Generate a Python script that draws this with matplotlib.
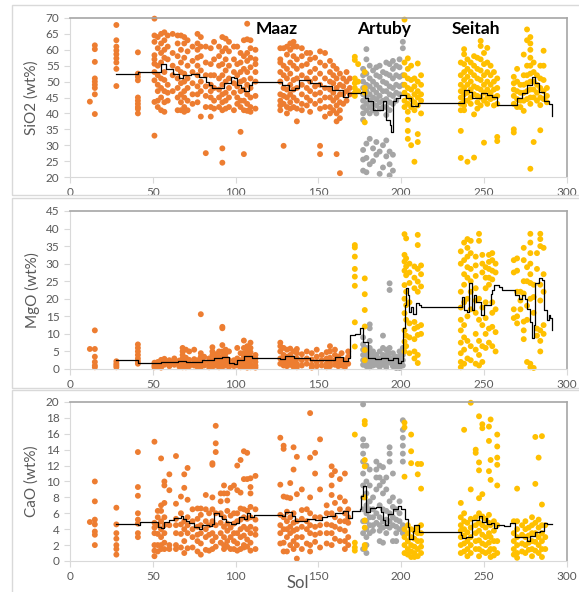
import matplotlib
matplotlib.use("Agg")
import matplotlib.pyplot as plt
from matplotlib.patches import Rectangle

ORANGE = '#ED7D31'
GREY = '#A5A5A5'
YELLOW = '#FFC000'
TXT = '#595959'

# ---- SiO2 (sol, values) ----
sio2_maaz = [
    (12, [43.7]),
    (15, [61.4, 60.2, 56.2, 51, 50, 49, 48, 46, 39.8]),
    (28, [67.8, 63, 61, 59.8, 58.6, 57.3, 56, 54, 48.6]),
    (41, [59.2, 52.5, 51.5, 50.4, 45, 44, 43, 42, 41.4, 40]),
    (51, [69.8, 64.5, 62.5, 58.3, 57, 55.6, 53, 50.4, 43.6, 33]),
    (53, [64, 60.5, 55, 52, 49, 47, 44, 42]),
    (55, [65, 62, 59, 56, 51, 48, 45, 41]),
    (57, [65.5, 63, 60, 57.5, 53, 50.5, 47, 43.5, 40.5]),
    (59, [64.5, 61, 57, 49, 46.5, 44]),
    (62, [65, 59, 55, 52, 47]),
    (65, [64.5, 62, 58, 54, 51, 48, 45, 41]),
    (67, [64.5, 60, 56, 53, 49.5, 46, 43.5, 41]),
    (69, [64, 62, 57.5, 52.5, 50, 47, 45, 42, 40.5]),
    (71, [63, 59.5, 55, 51, 48, 44, 41]),
    (74, [61, 56.5, 53, 49.5, 46, 43]),
    (77, [65, 62, 60, 57.5, 55, 52, 48.5, 46, 43.5]),
    (79, [64, 61, 58, 53.5, 50, 47, 39]),
    (82, [61, 56, 52, 48.5, 45.5, 42, 27.5]),
    (85, [60.5, 55.5, 52, 49, 47, 45, 42, 39]),
    (87, [62.5, 57, 52, 48, 44, 41.5]),
    (90, [61, 58, 55, 51, 47.5, 45, 42]),
    (92, [64, 59.5, 55.5, 52, 49, 46, 43.5, 41, 29, 24.5]),
    (94, [63.5, 60.5, 57, 53.5, 50, 46.5, 44, 41.5]),
    (96, [62.5, 59.5, 55, 51, 48, 45, 42]),
    (99, [61, 57, 53, 49.5, 46.5, 41]),
    (101, [61, 55.5, 52, 48.5, 45, 43]),
    (103, [59, 56, 53, 50, 47, 44, 42, 34.2]),
    (105, [63, 58, 54, 50.5, 47.5, 44, 41, 27.2]),
    (107, [68.2, 63.3, 59, 56.5, 53, 49, 46, 43, 40.8]),
    (109, [63, 60.5, 57.5, 54.5, 51, 48, 45, 42, 40.5]),
    (112, [60, 57, 55.5, 53, 50, 45.5, 41.5]),
    (127, [60.5, 57, 56, 53, 50, 46, 44, 42.5, 41]),
    (129, [60.5, 55, 52, 48, 45.5, 43, 29.8]),
    (131, [61, 58.5, 54, 51, 47.5, 45, 42, 40]),
    (133, [62, 60, 56, 52.5, 49, 46, 43.5, 41.5]),
    (135, [62.5, 61, 58, 55, 50.5, 47.5, 45, 42]),
    (137, [61, 57, 54, 51, 48, 44, 41.5, 37.5]),
    (140, [60.5, 58, 55, 52, 49, 46, 43, 41]),
    (143, [59, 55.5, 51, 48, 45, 42.5]),
    (145, [59, 57, 53, 50, 47, 44, 40.5]),
    (148, [57.5, 54, 51, 48.5, 46, 43]),
    (151, [59.5, 56, 52.5, 49, 46.5, 44, 41.5, 29.8, 27.2]),
    (154, [59, 55, 51, 48, 45, 42, 39]),
    (157, [56.5, 53, 50, 47.5, 45, 42, 40]),
    (159, [55, 52, 49.5, 46.5, 44, 41]),
    (161, [54, 51, 48, 45, 42.5, 40, 37.5, 27.2]),
    (163, [52.5, 49, 46, 43.5, 41, 38.5, 21.2]),
    (165, [51, 48.5, 46, 43]),
    (167, [53, 50, 47, 44]),
    (169, [51, 48, 46]),
]
sio2_artuby = [
    (177, [54, 52, 50, 48, 46, 44, 42, 40, 38, 28.5, 25.5, 22]),
    (179, [60.2, 57, 52.5, 49, 47, 45, 43, 41, 30.5, 26, 21.5]),
    (181, [55, 51, 48.5, 46, 44, 42, 40, 32, 24]),
    (183, [53.5, 50, 47.5, 45, 43, 41, 29, 25]),
    (185, [54.5, 52, 49, 46.5, 44.5, 42.5, 40, 31, 27]),
    (187, [55, 51.5, 48, 45.5, 43.5, 41.5, 28, 21]),
    (189, [53, 50, 47, 44, 42, 30, 23]),
    (191, [56, 52.5, 49.5, 47, 44.5, 42, 39.5, 31.5, 26.5]),
    (193, [55.5, 52, 48.5, 46, 43.5, 41, 28, 24, 20.5]),
    (195, [56.5, 54, 51, 48, 45.5, 43, 27, 22]),
    (197, [55, 52, 49, 46.5, 44]),
    (199, [57, 54.5, 51.5, 48.5, 46]),
    (201, [62.5, 60.5, 52, 49]),
]
sio2_seitah = [
    (172, [57.8, 56.8, 51, 49.5, 48, 46.5, 45.5]),
    (174, [55.5, 50, 47]),
    (178, [53, 48, 46.5, 37.2]),
    (202, [69.5, 56, 52, 49, 46.5, 44, 42]),
    (204, [57.3, 54, 51, 48, 45.5, 43, 40.5, 38, 34.5, 32]),
    (206, [55, 50.5, 47.5, 44.5, 42, 30]),
    (208, [51, 48.5, 46, 43.5, 41, 24.8]),
    (210, [55.7, 50, 47, 45, 42.5, 33.5, 31]),
    (212, [52, 49, 46, 44, 40]),
    (236, [56, 52, 49, 47, 45, 43, 41, 34.5, 26]),
    (238, [60.2, 58.6, 55.5, 53, 50.5, 48, 46, 44, 42.5, 41]),
    (240, [57, 54, 51.5, 49, 46.5, 44, 24.8]),
    (242, [56, 53, 50, 47.5, 45, 43]),
    (244, [58, 55, 52, 48.5, 46, 39.7, 26.1]),
    (246, [57.5, 54, 51, 48, 45.5, 43.5, 41.5]),
    (248, [62.8, 61.2, 57, 53.5, 50.5, 47.5, 45, 42.5]),
    (250, [59, 55.5, 52, 49, 46.5, 44, 30.8]),
    (252, [60.6, 56, 53, 50, 47.5, 45, 43]),
    (254, [55, 52, 49, 46.5, 44.5]),
    (256, [53, 50, 47.5, 45, 42.5]),
    (258, [51, 48, 45.5, 43, 32.6, 31.3]),
    (268, [51.5, 49.5, 47.5, 45.5, 43, 35, 34]),
    (270, [54, 50, 47, 44.5, 42]),
    (272, [49, 46.5, 44, 42]),
    (274, [58.5, 52, 49, 46.5, 44, 40.8]),
    (276, [66.4, 63, 55, 52, 49.5, 47, 44.5]),
    (278, [64, 62, 60, 57.5, 55, 52.5, 50, 47.5, 45, 43, 22.6]),
    (280, [56, 53, 50, 47.5, 45, 31]),
    (282, [52, 49, 46.5, 44]),
    (284, [55, 51, 48, 45, 42.6, 34.7]),
    (286, [59.7, 55, 50.5, 47, 44.5]),
    (288, [48, 45.5, 43.5]),
]
sio2_avg_sol = [28, 41, 51, 55, 58, 62, 66, 68, 73, 78, 82, 84, 86, 91, 93, 97, 99, 101,
                103, 105, 108, 110, 128, 132, 136, 138, 145, 151, 158, 165, 168, 176, 178,
                180, 183, 188, 189, 191, 193, 194, 195, 197, 199, 203, 206, 210, 236, 238,
                241, 243, 248, 252, 255, 258, 268, 270, 273, 276, 279, 281, 283, 286, 289, 291]
sio2_avg = [52.4, 53, 53, 55.5, 54, 52.5, 51, 52, 52.5, 51.5, 50, 49, 48, 48, 49.5, 51.5, 51, 49,
            48, 47, 49, 50, 49, 47.5, 48, 50.5, 49.7, 48.6, 47.4, 45.2, 46.4, 46.7, 45,
            44, 41, 41, 44, 38, 36.4, 34, 44, 45, 45.8, 45, 42.3, 43.2, 43.2, 47.4,
            46.7, 45, 46.4, 45.7, 45.1, 42.6, 42.6, 45, 46.4, 49, 51.5, 49.7, 46.7, 44, 43, 39.2]

# ---- MgO ----
mgo_maaz = [
    (12, [5.7]), (15, [11, 5.7, 3.5, 2, 1, 0.5]), (28, [2.2, 1.5, 1, 0.5]),
    (41, [7, 6, 5, 4, 3, 2.2, 1.5]), (51, [1.8, 1, 0.5]), (53, [2, 1.3, 0.7]),
    (55, [2.6, 1.8, 1, 0.4]), (57, [2.9, 2, 1.2]), (60, [2.5, 1.6, 0.8]), (63, [3, 2, 1.2]),
    (66, [2.4, 1.5, 0.7]), (68, [6, 5, 4, 3, 2, 1.2, 0.5]), (70, [5.5, 3.2, 2, 1, 0.5]),
    (72, [5, 2.6, 1.5, 0.8]), (75, [5.5, 2.8, 1.8, 1]), (77, [2.5, 1.5, 0.6]),
    (79, [15.6, 4.5, 3.5, 2.5, 1.5, 0.6]), (81, [3.5, 2, 1]), (84, [3, 2, 1.2, 0.5]),
    (86, [6.2, 5, 4, 2.5, 1.5, 0.6]), (88, [4.2, 3, 2, 1]), (90, [5, 3.5, 2.2, 1.2, 0.5]),
    (92, [12, 11.6, 6.8, 5, 3.5, 2.5, 1.5, 0.6]), (94, [5.5, 4.5, 3.3, 2, 1]),
    (96, [5, 2.5, 1.5, 0.6]), (99, [2.5, 1.5, 0.8]), (101, [6, 3, 2, 1]),
    (103, [4.5, 2.5, 1.5, 0.5]), (105, [8.1, 6, 4.5, 3.5, 2.5, 1.5, 0.8]),
    (107, [6.5, 5, 4, 3, 2, 1, 0.4]), (109, [7.5, 6, 4.8, 3.5, 2.3, 1.2, 0.5]),
    (112, [4, 3, 2, 1, 0.4]), (127, [7.5, 6.5, 5, 3, 1.5]), (129, [6, 4, 2.5, 1]),
    (131, [5.5, 3.5, 2, 0.8]), (133, [5.8, 4, 2.5, 1.2]), (135, [5, 3, 1.8, 0.6]),
    (137, [5.7, 4.5, 3, 1.5, 0.5]), (140, [4.2, 2.5, 1]), (143, [5, 3, 1.5]),
    (146, [4.5, 2.7, 1.2, 0.4]), (149, [5.5, 3.5, 2, 0.8]), (152, [4, 2.5, 1]),
    (155, [4.8, 3, 1.5, 0.5]), (157, [6.5, 5, 3.2, 1.8, 0.8]), (160, [5.5, 4, 2.5, 1.2]),
    (162, [3.5, 2, 0.8]), (164, [4.5, 2.5, 1]), (166, [2.5, 1.5, 0.5]), (168, [5, 3.5, 1.5]),
]
mgo_artuby = [
    (177, [9, 7, 5.5, 4, 2.5, 1.2]), (179, [6, 4.5, 3, 2, 0.8]),
    (181, [12.7, 11.6, 8, 6, 4.5, 3, 1.5, 0.5]), (183, [5, 3.5, 2.2, 1]),
    (185, [4, 2.5, 1.2]), (187, [5, 3, 1.8, 0.6]), (189, [9.5, 6, 4, 2.5, 1.2]),
    (191, [5.5, 4, 2.8, 1.5, 0.5]), (193, [24.4, 22.5, 6, 4.5, 3, 1.8]),
    (195, [4.5, 3, 2, 0.8]), (197, [3.5, 2.2, 1.2, 0.3]), (199, [5, 3.5, 2, 1, 0.3]),
    (201, [6, 4, 2.5, 1]),
]
mgo_seitah = [
    (172, [35.3, 34.6, 32, 28.5, 26.3, 23.7, 13.3, 6.4]),
    (178, [25.8, 21.3, 16.8, 12.1, 5.4, 2.5]),
    (202, [38.4, 32.5, 30.6, 28, 23.9, 20, 15.9, 11, 7.8, 5]),
    (203, [37.2, 31.5, 29.2, 26.7, 22, 18.2, 14, 9.5, 6.5]),
    (205, [30, 27.5, 24.5, 19, 13, 9, 4.5]),
    (208, [29.2, 26, 23, 13.4, 11.5, 8.5, 5, 3]),
    (210, [38.2, 35.3, 28.5, 24.9, 22, 12, 9.7, 4, 1.7]),
    (212, [29.5, 27, 23.5, 12.5, 10]),
    (236, [33.5, 30, 22, 17.5, 14, 11, 7.5, 4.5, 2, 0.5]),
    (238, [36, 31, 27, 24, 19, 12.5, 9, 5.5, 1.5]),
    (240, [37, 34.5, 32, 29, 26, 20, 15, 8, 3]),
    (242, [36.5, 33, 28.5, 25, 22, 17, 6.5, 2.5]),
    (245, [32, 29.5, 26.5, 23, 19.5, 16, 10, 5.5, 1.5]),
    (247, [38.5, 36.5, 20, 14, 8, 4, 1]),
    (249, [32.5, 30, 27.5, 17.5, 12.5, 6.5, 2]),
    (251, [29, 26, 23, 19, 14.5, 10, 6]),
    (253, [32.5, 30.5, 28.5, 26, 24, 11.5, 7.5]),
    (255, [33, 31, 28, 25.5, 19, 16, 12, 6.5]),
    (257, [30, 27.5, 17, 10.5, 5]),
    (268, [31, 27.5, 17, 14.5]),
    (270, [31.5, 28, 22, 15, 13]),
    (272, [22, 19.5, 17]),
    (274, [34.5, 31, 25, 21.5, 13.5, 11, 8.5]),
    (276, [29, 25, 18, 14, 2]),
    (278, [38.5, 36, 33, 30, 27, 24.5, 20, 1.5, 0.5]),
    (280, [24, 20.5, 16, 0.3]),
    (282, [33, 28.5, 11.5, 9.5]),
    (284, [38.5, 37, 35, 24, 19.5, 11, 8, 5]),
    (286, [34.5, 27, 22, 12.5, 10]),
]
mgo_avg_sol = [28, 41, 55, 65, 70, 80, 87, 92, 96, 99, 101, 105, 110, 127, 130, 135, 145,
               160, 165, 168, 169, 172, 175, 177, 180, 184, 188, 192, 195, 198, 200, 201,
               202, 203, 204, 205, 206, 207, 209, 211, 212, 213, 237, 238, 240, 241, 243,
               244, 245, 248, 250, 254, 255, 256, 259, 261, 269, 271, 273, 275, 276, 278,
               279, 280, 281, 283, 285, 286, 288, 289, 290, 291]
mgo_avg = [2.6, 1.8, 2, 2.3, 2, 2.6, 3, 3.4, 1.8, 1.5, 2.5, 3.7, 3.2, 2.9, 3.7, 3, 2.7,
           3.5, 2.4, 3, 9.7, 10, 11.6, 7.8, 3.1, 2.8, 3.2, 2.5, 3, 1.7, 2.4, 11.6,
           18.2, 23, 21, 16.3, 17.6, 15.7, 18.7, 18.2, 17.6, 17.6, 20.6, 16.8, 16.3, 24.4, 16.8,
           21, 19, 15.4, 18.2, 21.4, 22.5, 23.8, 23.3, 22.4, 21, 20, 21, 20, 17.2, 13.4,
           8.7, 12.5, 24.4, 25.8, 25.4, 16.8, 14, 15.4, 14.5, 11.1]

# ---- CaO ----
cao_maaz = [
    (12, [4.9]), (15, [10, 7.5, 5.2, 4.6, 3.7, 3.3, 2]), (28, [6.7, 4.6, 3.5, 2.8, 2, 1.5, 0.8]),
    (41, [13.7, 9.3, 8.2, 6, 5.2, 4.7, 3.5, 3]), (51, [15, 4.8, 4.2, 3.5, 2, 1.3, 0.6]),
    (53, [6.3, 5.5, 4.5, 3.4, 2, 1.2]), (55, [12.9, 7, 6.3, 5, 4, 3, 2, 1.5]),
    (57, [10, 9.5, 7.3, 5.5, 4.5, 3.5, 2.3, 1.5]), (60, [10.9, 8.9, 4.5, 2, 1.5]),
    (64, [13.2, 7.2, 5.3, 4.5, 3.5, 2, 1.5]), (67, [8.1, 6, 4.6, 3.4, 1.7]),
    (69, [10.9, 9.2, 5, 4, 2.5, 1]), (71, [11.7, 7.7, 5.5, 4.5, 3.5, 1.6]),
    (74, [6.5, 5, 4, 3, 1.7]), (77, [6.6, 5.3, 4.3, 3.3, 2.5, 1.2]),
    (79, [6.6, 5.8, 4.5, 3.5, 2.2, 0.8]), (82, [8.3, 6.5, 5, 4, 3, 1.4]), (84, [6, 4.5, 3.3, 1.3]),
    (86, [12.3, 12.1, 8, 6.5, 5, 3.5, 2.5, 1.5]), (88, [17, 14.8, 13.7, 6, 4.5, 3, 1.8]),
    (91, [8.5, 7.5, 6, 4.8, 3.5, 2.3]), (93, [9.5, 8.5, 5.5, 4.3, 3, 2, 1.5]),
    (95, [8.5, 7.6, 6.3, 4.7, 3.8, 2.5, 1.8]), (97, [9.2, 5.7, 4.2, 3, 1.5]),
    (99, [9.5, 6, 4.7, 3.5, 2.5, 1.5]), (101, [12, 8.9, 6, 5, 3.5, 2.2, 1.3]),
    (103, [12.7, 8.6, 6.6, 5.2, 4, 3, 1.5]), (105, [13.8, 10.3, 6.5, 5.5, 4.3, 3.2, 2, 1.7]),
    (107, [13.6, 10.3, 6.3, 5.3, 4, 2.7, 1.8]), (109, [10.4, 9.3, 8.5, 6.8, 5.5, 4.3, 3.5, 2.3, 1.3]),
    (112, [10.7, 6.5, 5.2, 4, 3.3, 1.5]), (127, [15.5, 9.6, 5.8, 4.5, 3.5, 2.2]),
    (129, [14.5, 14.1, 8.1, 5.5, 4, 2.3, 1.2]), (131, [8, 6.2, 5, 4, 3, 1.2]),
    (133, [9.8, 7.9, 5.5, 4.3, 3.5, 2]), (135, [14.3, 11.5, 6, 4.8, 3.8, 2.5, 1.5]),
    (137, [13.1, 8.4, 5, 4, 3, 2, 0.3]), (140, [9, 6.4, 5.3, 4.3, 3, 1.5]),
    (143, [6.5, 5, 4, 2.2]), (145, [18.6, 13, 8, 6, 4.5, 3.5, 2, 1.2]),
    (148, [13.6, 11, 5.5, 4.3, 3.3, 2.4]), (151, [15.3, 9, 5.5, 4.5, 3.5, 1.7]),
    (155, [7, 6, 4.6, 3.5, 2.2]), (158, [11.9, 10.8, 9.5, 8.3, 6, 4.5, 3.5, 2]),
    (160, [11.3, 7.3, 5.5, 4.3, 2.8]), (163, [10.3, 8, 6.5, 5, 4, 2.5]),
    (166, [11, 7.5, 6, 5, 3.8, 2.5, 1.5]), (168, [6.5, 5.5, 4.8, 3, 2]),
]
cao_artuby = [
    (177, [19.7, 15.3, 14.5, 13.5, 12.5, 11, 9.5, 8, 6.5, 5, 3.5, 1.5]),
    (179, [14.5, 12, 10, 8.5, 7, 6, 5, 4, 3, 2, 1]),
    (181, [11.5, 9.5, 7.5, 6.5, 5.5, 4.5, 3.5]), (183, [8, 6.5, 5.5, 4.5, 3.8]),
    (185, [12.5, 11.5, 10.5, 9, 6, 4.8]), (187, [12, 10.5, 9.5, 7, 5.5, 4.5, 3.8, 2.5]),
    (189, [11.8, 10, 8.5, 6.5, 5, 4.2, 2.3]), (191, [10.5, 9, 6.3, 5.2, 4.4, 3.5]),
    (193, [14.3, 13.5, 12.5, 7.5, 6, 5, 4.2]), (195, [11, 8, 6.8, 5.5, 4.5, 2.5]),
    (197, [6.5, 5.2, 4.3, 3.5, 2.5]), (199, [7.5, 6, 5, 4]),
    (201, [17.7, 16.5, 15.5, 14.5, 13.5, 12.5, 4.5, 3.5]),
]
cao_seitah = [
    (172, [15.9, 2.3, 1.7, 1.3]),
    (178, [17.6, 17.2, 12.7, 11.9, 8, 5.1, 4.2, 2, 1.6]),
    (202, [17.4, 16.8, 10.6, 4, 3, 2, 1]), (204, [4.5, 3.5, 2.5, 1.5, 0.8]),
    (206, [15.9, 13.8, 12.3, 4, 3, 2, 1.2, 0.5]), (208, [3.8, 2.8, 1.8, 1, 0.5]),
    (210, [12.2, 10.9, 4.2, 3.5, 2.5, 1.5, 0.6]), (212, [12.2, 9.1, 4.5, 3.5, 2.5, 1.8, 1]),
    (236, [7.3, 5.5, 4.5, 3.8, 3, 2, 1]), (238, [16.5, 6, 5, 4, 3.2, 2.2, 1.2]),
    (240, [4.8, 3.6, 2.5, 1.5, 0.6]), (242, [19.9, 9, 5.3, 4.2, 3, 2, 1]),
    (245, [14, 13.6, 5.5, 4.5, 3.5, 2.5, 1.5]),
    (247, [18.2, 12.4, 11.4, 7.9, 6, 4.8, 3.8, 2.6, 1.5, 0.6]),
    (249, [17.2, 16.7, 8.4, 5.6, 4.5, 3.3, 2.2, 1.2]), (251, [5.3, 4.2, 3, 2, 1]),
    (253, [16.9, 15.1, 11.3, 5.8, 4.8, 3.5, 2.3, 1.2]), (254, [17.8, 12.7, 10.2, 4.5, 3, 1.5, 0.5]),
    (256, [5, 3.8, 2.5, 1.5, 0.7]), (258, [15.9, 14.4, 13, 12.1, 9.5, 4.5, 2.5, 1]),
    (268, [5, 3.5, 2.5, 1.5, 0.8]), (270, [9.1, 5, 4, 3, 2, 1, 0.4]),
    (273, [4.5, 3.3, 2.2, 1.2]), (275, [5, 4, 3, 2, 1]), (277, [4.2, 3.2, 2.3, 1.4]),
    (279, [5.5, 4.5, 3.5, 2.5, 1.5, 0.6]), (281, [15.6, 9.7, 4.8, 3.5, 2.4, 1.3]),
    (283, [13, 5.2, 4.2, 3, 2, 1]), (285, [15.7, 7.1, 4.5, 3.5, 2.5, 1.5, 0.5]),
    (287, [4.5, 3, 1.5]),
]
cao_avg_sol = [28, 41, 42, 51, 53, 55, 57, 60, 63, 67, 68, 70, 72, 75, 78, 80, 84, 86, 87,
               90, 92, 94, 97, 100, 102, 105, 107, 109, 111, 128, 130, 131, 134, 136, 143,
               148, 152, 155, 160, 165, 168, 170, 175, 176, 177, 179, 181, 185, 188, 189,
               190, 192, 195, 198, 200, 202, 204, 205, 207, 208, 211, 236, 237, 239, 243,
               247, 249, 251, 252, 254, 256, 258, 262, 266, 269, 271, 276, 278, 281, 284,
               286, 288, 291]
cao_avg = [4.6, 4.5, 4.9, 4.9, 4.3, 4.1, 4.9, 5.2, 5.4, 5.6, 5.3, 5, 4.8, 4.3, 4, 4.5, 4.4, 4.7, 6,
           5.6, 5.3, 4.9, 4.6, 4.8, 5.5, 5.3, 6, 5.5, 5.8, 5.7, 6.2, 6.1, 5.6, 5, 5.3,
           5.2, 5.5, 5.7, 6, 6.3, 5.4, 6.3, 6.6, 8.2, 9.4, 6.2, 6.7, 6.8, 6.2, 5.1,
           4.5, 5.9, 6.6, 6.9, 6.6, 5.3, 4.3, 2.8, 3.8, 4.5, 3.7, 3.3, 2.9, 3, 5.2,
           5.6, 4.9, 5.4, 4.6, 4.8, 4.2, 4.5, 4.4, 4.8, 3, 3, 2.5, 3.2, 3.6, 3.8,
           4.8, 4.6, 4.6]


def expand(cols):
    xs, ys = [], []
    for sol, vals in cols:
        xs += [sol] * len(vals)
        ys += vals
    return xs, ys


plt.rcParams['font.family'] = ['Lato', 'DejaVu Sans']
fig = plt.figure(figsize=(5.79, 5.92), dpi=100)

# light frames around each chart (Excel chart areas)
for y0, h in [(397, 190), (204, 190), (-10, 212)]:
    fig.patches.append(Rectangle((12 / 579, y0 / 592), 570 / 579, h / 592,
                                 transform=fig.transFigure, fill=False,
                                 edgecolor='#D9D9D9', lw=1.0))

panels = [
    ([0.1209, 0.701, 0.858, 0.2686], sio2_maaz, sio2_artuby, sio2_seitah,
     sio2_avg_sol, sio2_avg, (20, 70), 5, 'SiO2 (wt%)'),
    ([0.1209, 0.3767, 0.858, 0.2669], mgo_maaz, mgo_artuby, mgo_seitah,
     mgo_avg_sol, mgo_avg, (0, 45), 5, 'MgO (wt%)'),
    ([0.1209, 0.0524, 0.858, 0.2686], cao_maaz, cao_artuby, cao_seitah,
     cao_avg_sol, cao_avg, (0, 20), 2, 'CaO (wt%)'),
]

for rect, maaz, artuby, seitah, lsol, lval, ylim, ystep, ylab in panels:
    ax = fig.add_axes(rect)
    for cols, c in [(maaz, ORANGE), (artuby, GREY), (seitah, YELLOW)]:
        x, y = expand(cols)
        ax.scatter(x, y, s=18, color=c, edgecolors='none', zorder=2, clip_on=False)
    ax.plot(lsol, lval, color='black', lw=0.9, drawstyle='steps-post', zorder=3)
    ax.set_xlim(0, 300)
    ax.set_ylim(*ylim)
    ax.set_xticks(range(0, 301, 50))
    ax.set_yticks(range(ylim[0], ylim[1] + 1, ystep))
    for s in ['left', 'bottom']:
        ax.spines[s].set_color('#D9D9D9')
    for s in ['top', 'right']:
        ax.spines[s].set_color('#A6A6A6')
        ax.spines[s].set_linewidth(1.2)
    ax.tick_params(colors='#D9D9D9', labelcolor=TXT, labelsize=8.5, length=4, width=0.8)
    fig.text(32 / 579, rect[1] + rect[3] / 2, ylab, rotation=90, ha='center', va='center',
             color=TXT, fontsize=11)
    if ylab.startswith('SiO2'):
        for name, sx in [('Maaz', 125), ('Artuby', 189.5), ('Seitah', 245)]:
            ax.text(sx, 66.5, name, ha='center', va='center', fontsize=12.5,
                    fontweight='bold', color='black', zorder=4)

fig.text(298 / 579, 1 / 592, 'Sol', ha='center', va='bottom', color=TXT, fontsize=12)

fig.savefig('out.png', dpi=100)
